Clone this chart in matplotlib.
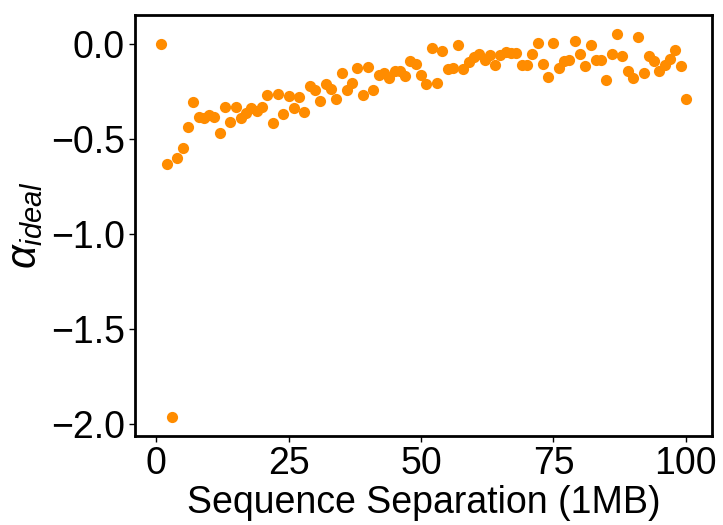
import matplotlib
matplotlib.use('Agg')
import matplotlib.pyplot as plt

plt.rcParams['font.family'] = ['Liberation Sans', 'DejaVu Sans']
plt.rcParams['mathtext.fontset'] = 'custom'
plt.rcParams['mathtext.rm'] = 'Liberation Sans'
plt.rcParams['mathtext.it'] = 'Liberation Sans:italic'

# sequence separation in 1MB bins
separation = list(range(1, 101))

# fitted alpha_ideal per separation
alpha_ideal = [
    0.000, -0.633, -1.960, -0.603, -0.547, -0.440, -0.306, -0.385, -0.390, -0.376,
    -0.385, -0.467, -0.335, -0.414, -0.335, -0.390, -0.364, -0.340, -0.353, -0.330,
    -0.267, -0.416, -0.262, -0.367, -0.276, -0.340, -0.280, -0.358, -0.224, -0.241,
    -0.302, -0.213, -0.236, -0.288, -0.152, -0.241, -0.206, -0.128, -0.271, -0.122,
    -0.241, -0.166, -0.152, -0.180, -0.145, -0.145, -0.171, -0.091, -0.105, -0.163,
    -0.210, -0.021, -0.206, -0.039, -0.131, -0.126, -0.009, -0.131, -0.096, -0.070,
    -0.052, -0.084, -0.058, -0.114, -0.058, -0.044, -0.049, -0.049, -0.114, -0.114,
    -0.052, 0.005, -0.105, -0.175, 0.005, -0.126, -0.093, -0.084, 0.014, -0.056,
    -0.117, -0.009, -0.084, -0.088, -0.189, -0.052, 0.052, -0.065, -0.145, -0.180,
    0.038, -0.154, -0.065, -0.091, -0.144, -0.114, -0.082, -0.035, -0.117, -0.292,
]

fig = plt.figure(figsize=(7.23, 5.25), dpi=100)
ax = fig.add_axes([0.187, 0.17, 0.798, 0.802])
ax.scatter(separation, alpha_ideal, s=65, color='darkorange', linewidths=0)

ax.set_xlabel('Sequence Separation (1MB)', fontsize=27, labelpad=2)
ax.set_ylabel(r'$\alpha_{ideal}$', fontsize=30, labelpad=4)
ax.tick_params(labelsize=27, width=1, length=4)
for sp in ax.spines.values():
    sp.set_linewidth(2)

fig.savefig('out.png', dpi=100)
